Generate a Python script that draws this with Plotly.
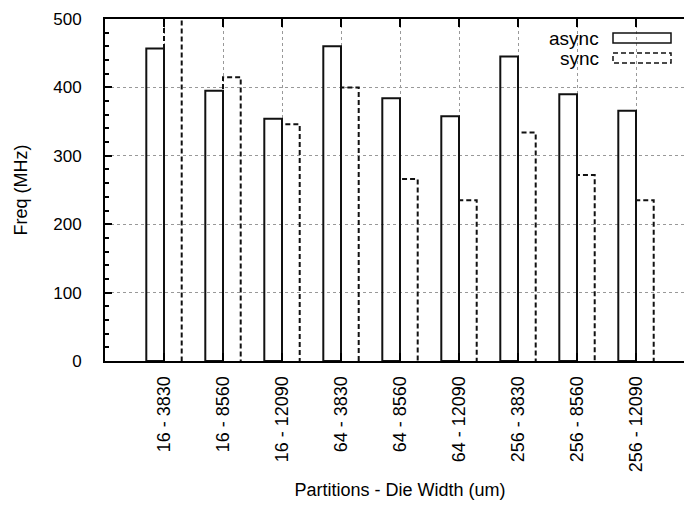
import plotly.graph_objects as go

categories = ["16 - 3830", "16 - 8560", "16 - 12090",
              "64 - 3830", "64 - 8560", "64 - 12090",
              "256 - 3830", "256 - 8560", "256 - 12090"]
async_freq = [457, 395, 354, 460, 384, 358, 445, 390, 366]
sync_freq = [540, 415, 346, 400, 266, 235, 334, 272, 235]
y_ticks = [0, 100, 200, 300, 400, 500]

FONT = "Liberation Sans, Arial, Helvetica, sans-serif"
BAR_W = 0.3
DASH = "5px,3px"

idx = list(range(len(categories)))

fig = go.Figure()

# async bars: solid outline, empty fill, left of category centre
fig.add_trace(go.Bar(
    x=idx, y=async_freq, offset=-BAR_W, width=BAR_W,
    marker=dict(color="rgba(0,0,0,0)", line=dict(color="#111111", width=2)),
    name="async", showlegend=False,
    customdata=categories, hovertemplate="%{customdata}<br>async: %{y} MHz<extra></extra>",
))

# sync bars: dashed outline (bar lines cannot be dashed, so trace the outline)
sx, sy = [], []
for i, v in zip(idx, sync_freq):
    sx += [i, i, i + BAR_W, i + BAR_W, None]
    sy += [0, v, v, 0, None]
fig.add_trace(go.Scatter(
    x=sx, y=sy, mode="lines",
    line=dict(color="#111111", width=2, dash=DASH),
    name="sync", showlegend=False, hoverinfo="skip",
))

# page body adds an 8px offset; right border falls just outside the view
L, R, T, B = 97, 5, 11, 166
W, H = 692, 519

fig.update_layout(
    width=W, height=H,
    margin=dict(l=L, r=R, t=T, b=B),
    paper_bgcolor="white", plot_bgcolor="white",
    font=dict(family=FONT, size=18, color="black"),
    xaxis=dict(
        range=[-1, 9],
        tickmode="array", tickvals=idx, ticktext=categories,
        tickangle=-90,
        ticks="inside", ticklen=8, tickwidth=2, tickcolor="black",
        showline=True, linecolor="black", linewidth=2, mirror="ticks",
        showgrid=True, gridcolor="#999999", griddash="dot", gridwidth=1,
        zeroline=False, automargin=False,
        ticklabelstandoff=6,
        title=dict(text="Partitions - Die Width (um)", standoff=12,
                   font=dict(size=18)),
    ),
    yaxis=dict(
        range=[0, 500],
        tickmode="array", tickvals=y_ticks,
        tickfont=dict(size=17),
        ticks="inside", ticklen=7, tickwidth=2, tickcolor="black",
        minor=dict(dtick=20, ticks="inside", ticklen=4, tickwidth=1.5,
                   tickcolor="black", showgrid=False),
        showline=True, linecolor="black", linewidth=2, mirror="ticks",
        showgrid=True, gridcolor="#999999", griddash="dot", gridwidth=1,
        zeroline=False, automargin=False,
        ticklabelstandoff=18,
        title=dict(text="Freq (MHz)", standoff=21, font=dict(size=18)),
    ),
)

# gnuplot-style key: label on the left, sample box on the right
OFF = 8  # page offset of the figure

def px_x(p):
    return (p - OFF - L) / (W - L - R)

def px_y(p):
    return (H - B - (p - OFF)) / (H - T - B)

key = [("async", 38, "solid"), ("sync", 58, DASH)]
for label, yc, dash in key:
    fig.add_annotation(
        x=px_x(601), y=px_y(yc), xref="paper", yref="paper",
        text=label, showarrow=False, xanchor="right", yanchor="middle",
        font=dict(family=FONT, size=19, color="black"),
    )
    fig.add_shape(
        type="rect", xref="paper", yref="paper",
        x0=px_x(613), x1=px_x(671), y0=px_y(yc - 5), y1=px_y(yc + 5),
        line=dict(color="#111111", width=1.5, dash=dash),
        fillcolor="rgba(0,0,0,0)",
    )

fig.write_html("out.html")
